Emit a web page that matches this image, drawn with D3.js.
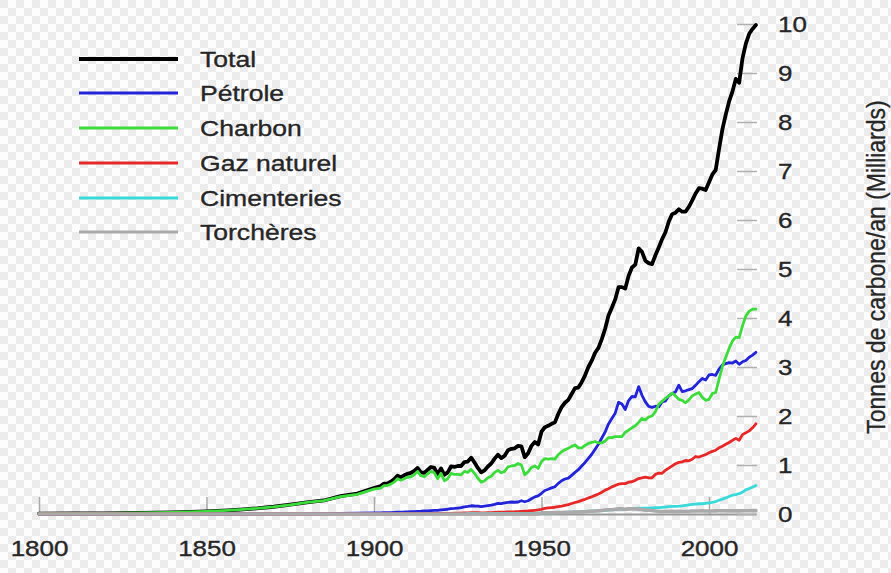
<!DOCTYPE html>
<html><head><meta charset="utf-8">
<script src="https://cdn.jsdelivr.net/npm/d3@7"></script>
<style>html,body{margin:0;padding:0;background:#fff;}svg{display:block;}</style>
</head><body>
<svg id="c" width="891" height="573"></svg>
<script>
// ---- DATA (billions of tonnes of carbon per year) ----
const years = [1800,1810,1820,1830,1840,1850,1855,1860,1865,1870,1875,1880,1885,1890,1895,
1900,1901,1902,1903,1904,1905,1906,1907,1908,1909,
1910,1911,1912,1913,1914,1915,1916,1917,1918,1919,
1920,1921,1922,1923,1924,1925,1926,1927,1928,1929,
1930,1931,1932,1933,1934,1935,1936,1937,1938,1939,
1940,1941,1942,1943,1944,1945,1946,1947,1948,1949,
1950,1951,1952,1953,1954,1955,1956,1957,1958,1959,
1960,1961,1962,1963,1964,1965,1966,1967,1968,1969,
1970,1971,1972,1973,1974,1975,1976,1977,1978,1979,
1980,1981,1982,1983,1984,1985,1986,1987,1988,1989,
1990,1991,1992,1993,1994,1995,1996,1997,1998,1999,
2000,2001,2002,2003,2004,2005,2006,2007,2008,2009,
2010,2011,2012,2013,2014];

const total = [0.008,0.010,0.014,0.024,0.033,0.054,0.070,0.091,0.115,0.148,0.190,0.239,0.276,0.366,0.417,
0.53,0.55,0.57,0.62,0.62,0.66,0.71,0.78,0.75,0.79,
0.82,0.84,0.88,0.94,0.85,0.84,0.90,0.96,0.94,0.81,
0.93,0.80,0.85,0.97,0.96,0.98,0.98,1.06,1.07,1.15,
1.05,0.94,0.85,0.89,0.97,1.03,1.13,1.21,1.14,1.19,
1.30,1.33,1.34,1.39,1.38,1.16,1.24,1.39,1.47,1.42,
1.68,1.77,1.80,1.84,1.87,2.04,2.18,2.27,2.33,2.45,
2.57,2.58,2.69,2.83,3.00,3.13,3.29,3.39,3.57,3.78,
4.05,4.21,4.38,4.63,4.63,4.60,4.86,5.03,5.09,5.42,
5.35,5.17,5.12,5.10,5.28,5.44,5.61,5.75,5.97,6.12,
6.15,6.22,6.17,6.17,6.27,6.40,6.54,6.65,6.64,6.61,
6.77,6.93,7.02,7.45,7.85,8.15,8.42,8.62,8.88,8.80,
9.30,9.60,9.80,9.90,9.98];

const petrole = [0,0,0,0,0,0,0,0,0,0.001,0.002,0.003,0.005,0.010,0.015,
0.023,0.023,0.024,0.026,0.027,0.030,0.033,0.037,0.040,0.041,
0.044,0.047,0.050,0.054,0.056,0.061,0.064,0.070,0.075,0.074,
0.084,0.090,0.097,0.110,0.115,0.122,0.130,0.147,0.155,0.168,
0.163,0.160,0.150,0.160,0.170,0.180,0.195,0.215,0.212,0.225,
0.235,0.245,0.240,0.245,0.270,0.250,0.270,0.310,0.350,0.370,
0.423,0.479,0.504,0.533,0.557,0.625,0.679,0.714,0.731,0.789,
0.849,0.904,0.980,1.052,1.137,1.219,1.323,1.423,1.551,1.673,
1.839,1.947,2.057,2.280,2.245,2.132,2.314,2.398,2.392,2.600,
2.422,2.289,2.196,2.176,2.199,2.186,2.293,2.306,2.412,2.459,
2.492,2.630,2.499,2.515,2.539,2.560,2.626,2.701,2.766,2.734,
2.839,2.847,2.831,2.959,3.043,3.068,3.089,3.081,3.122,3.056,
3.107,3.134,3.200,3.243,3.300];

const charbon = [0.008,0.010,0.014,0.024,0.033,0.054,0.070,0.091,0.115,0.147,0.188,0.236,0.271,0.356,0.400,
0.507,0.52,0.53,0.58,0.58,0.61,0.65,0.72,0.69,0.72,
0.75,0.76,0.80,0.87,0.78,0.76,0.82,0.87,0.84,0.72,
0.83,0.68,0.72,0.83,0.81,0.81,0.80,0.87,0.85,0.91,
0.83,0.73,0.65,0.68,0.74,0.77,0.85,0.89,0.84,0.87,
0.96,0.98,0.99,1.03,1.00,0.80,0.86,0.95,0.98,0.93,
1.07,1.13,1.12,1.13,1.12,1.21,1.27,1.31,1.34,1.38,
1.41,1.35,1.35,1.40,1.44,1.46,1.48,1.45,1.45,1.49,
1.56,1.56,1.58,1.58,1.58,1.67,1.71,1.76,1.80,1.87,
1.95,1.92,1.98,2.00,2.09,2.24,2.30,2.36,2.41,2.47,
2.41,2.34,2.32,2.27,2.33,2.41,2.45,2.48,2.38,2.32,
2.34,2.46,2.48,2.75,3.01,3.20,3.38,3.53,3.61,3.60,
3.84,4.04,4.14,4.18,4.18];

const gaz = [0,0,0,0,0,0,0,0,0,0,0,0,0.001,0.002,0.002,
0.003,0.003,0.003,0.003,0.004,0.004,0.004,0.005,0.005,0.006,
0.007,0.007,0.008,0.008,0.008,0.008,0.009,0.010,0.010,0.010,
0.011,0.010,0.011,0.014,0.016,0.017,0.019,0.021,0.023,0.027,
0.027,0.026,0.024,0.024,0.027,0.029,0.032,0.036,0.036,0.038,
0.042,0.045,0.046,0.050,0.054,0.059,0.062,0.068,0.075,0.082,
0.097,0.115,0.124,0.131,0.138,0.150,0.161,0.178,0.192,0.214,
0.235,0.254,0.277,0.300,0.328,0.351,0.380,0.410,0.445,0.487,
0.516,0.554,0.582,0.610,0.621,0.620,0.649,0.658,0.687,0.723,
0.738,0.752,0.738,0.739,0.808,0.836,0.830,0.892,0.935,0.982,
1.026,1.053,1.063,1.092,1.086,1.117,1.173,1.163,1.188,1.212,
1.250,1.278,1.302,1.351,1.384,1.422,1.459,1.504,1.544,1.505,
1.620,1.656,1.697,1.759,1.840];

const cimenteries = [null,null,null,null,null,null,null,null,null,null,null,null,null,null,null,
null,null,null,null,null,null,null,null,null,null,
null,null,null,null,null,null,null,null,null,null,
null,null,null,null,null,null,null,null,0.010,0.010,
0.010,0.008,0.007,0.007,0.008,0.009,0.011,0.011,0.012,0.013,
0.011,0.012,0.011,0.010,0.007,0.007,0.010,0.012,0.014,0.016,
0.018,0.020,0.022,0.024,0.027,0.030,0.032,0.034,0.036,0.040,
0.043,0.045,0.049,0.051,0.057,0.059,0.063,0.065,0.070,0.074,
0.078,0.084,0.089,0.095,0.095,0.092,0.103,0.108,0.116,0.119,
0.120,0.121,0.121,0.125,0.128,0.131,0.137,0.143,0.152,0.156,
0.157,0.161,0.167,0.176,0.186,0.197,0.203,0.209,0.209,0.217,
0.226,0.239,0.254,0.280,0.303,0.328,0.356,0.383,0.395,0.415,
0.446,0.494,0.519,0.549,0.580];

const torcheres = [0,0,0,0,0,0,0,0,0,0,0,0,0,0,0,
0,0,0,0,0,0,0,0,0,0,
0,0,0,0,0,0,0,0,0,0,
0,0,0,0,0,0,0,0,0,0,
0,0,0,0,0,0,0,0,0,0,
0,0,0,0,0,0,0,0,0,0,
0.023,0.024,0.026,0.027,0.027,0.031,0.032,0.035,0.035,0.036,
0.039,0.042,0.044,0.047,0.051,0.055,0.060,0.066,0.073,0.080,
0.087,0.088,0.095,0.105,0.104,0.095,0.104,0.104,0.105,0.100,
0.089,0.079,0.076,0.071,0.060,0.055,0.052,0.050,0.052,0.053,
0.052,0.054,0.050,0.052,0.055,0.060,0.061,0.062,0.063,0.061,
0.061,0.062,0.064,0.066,0.066,0.065,0.064,0.064,0.066,0.064,
0.065,0.066,0.067,0.068,0.068];

const seriesNames = ["Total","Pétrole","Charbon","Gaz naturel","Cimenteries","Torchères"];
const seriesValues = [total, petrole, charbon, gaz, cimenteries, torcheres];
const seriesColors = ["#000000","#2323d8","#3ddc3d","#e62828","#3adada","#aaaaaa"];
const seriesWidths = [3.8,2.8,2.8,2.8,2.8,3.6];

const xTicks = [1800,1850,1900,1950,2000];
const yTicks = [0,1,2,3,4,5,6,7,8,9,10];
const yTitle = "Tonnes de carbone/an (Milliards)";

// ---- CHART ----
const svg = d3.select("#c");
const SX = 1.18; // horizontal stretch of text in the reference
const FONT = "'Liberation Sans', Arial, Helvetica, sans-serif";
const TXT = "#262626";

// checkerboard background
const defs = svg.append("defs");
const pat = defs.append("pattern").attr("id","chk").attr("width",16).attr("height",16)
  .attr("patternUnits","userSpaceOnUse");
pat.append("rect").attr("width",16).attr("height",16).attr("fill","#fdfdfd");
pat.append("rect").attr("width",8).attr("height",8).attr("fill","#ececec");
pat.append("rect").attr("x",8).attr("y",8).attr("width",8).attr("height",8).attr("fill","#ececec");
svg.append("rect").attr("width",891).attr("height",573).attr("fill","url(#chk)");

const x = d3.scaleLinear().domain([1800,2014]).range([39, 39 + 214*3.35]);
const y = d3.scaleLinear().domain([0,10]).range([514, 24]);

// x axis
const gx = svg.append("g").attr("transform","translate(0,514)")
  .call(d3.axisBottom(x).tickValues(xTicks).tickFormat(d3.format("d"))
    .tickSizeInner(-17).tickSizeOuter(0).tickPadding(26));
gx.select(".domain").attr("stroke","#999").attr("stroke-width",2);
gx.selectAll(".tick line").attr("stroke","#aaa").attr("stroke-width",1.5);
gx.selectAll(".tick text").attr("font-family",FONT).attr("font-size",22)
  .attr("fill",TXT).attr("stroke",TXT).attr("stroke-width",0.35)
  .attr("transform",`scale(${SX},1)`);

// y axis (right)
const yPad = 21;
const gy = svg.append("g").attr("transform","translate(737,0)")
  .call(d3.axisRight(y).tickValues(yTicks).tickFormat(d3.format("d"))
    .tickSizeInner(20).tickSizeOuter(0).tickPadding(yPad));
gy.select(".domain").remove();
gy.selectAll(".tick line").attr("stroke","#b0b0b0").attr("stroke-width",1.5);
gy.selectAll(".tick text").attr("font-family",FONT).attr("font-size",22)
  .attr("fill",TXT).attr("stroke",TXT).attr("stroke-width",0.35)
  .attr("x",(20+yPad)/SX).attr("transform",`scale(${SX},1)`);

// y title
svg.append("text").attr("transform","translate(885,267) rotate(-90) scale(1,1.15)")
  .attr("text-anchor","middle").attr("font-family",FONT).attr("font-size",23)
  .attr("fill",TXT).attr("stroke",TXT).attr("stroke-width",0.3).text(yTitle);

// lines
const line = d3.line().defined(d => d[1] !== null)
  .x(d => x(d[0])).y(d => y(d[1])).curve(d3.curveLinear);
seriesValues.forEach((vals,i) => {
  const pts = years.map((yr,j) => [yr, vals[j]]);
  svg.append("path").datum(pts).attr("d",line).attr("fill","none")
    .attr("stroke",seriesColors[i]).attr("stroke-width",seriesWidths[i])
    .attr("stroke-linejoin","round").attr("stroke-linecap","round");
});

// legend
const legY = [59,93,128,163,198,232];
const lg = svg.append("g");
seriesNames.forEach((n,i) => {
  lg.append("line").attr("x1",79).attr("x2",178).attr("y1",legY[i]).attr("y2",legY[i])
    .attr("stroke",seriesColors[i]).attr("stroke-width",i===0?3.8:3);
  lg.append("text").attr("transform",`translate(200,${legY[i]+8}) scale(${SX},1)`)
    .attr("font-family",FONT).attr("font-size",22.5).attr("fill",TXT)
    .attr("stroke",TXT).attr("stroke-width",0.35).text(n);
});
</script>
</body></html>
